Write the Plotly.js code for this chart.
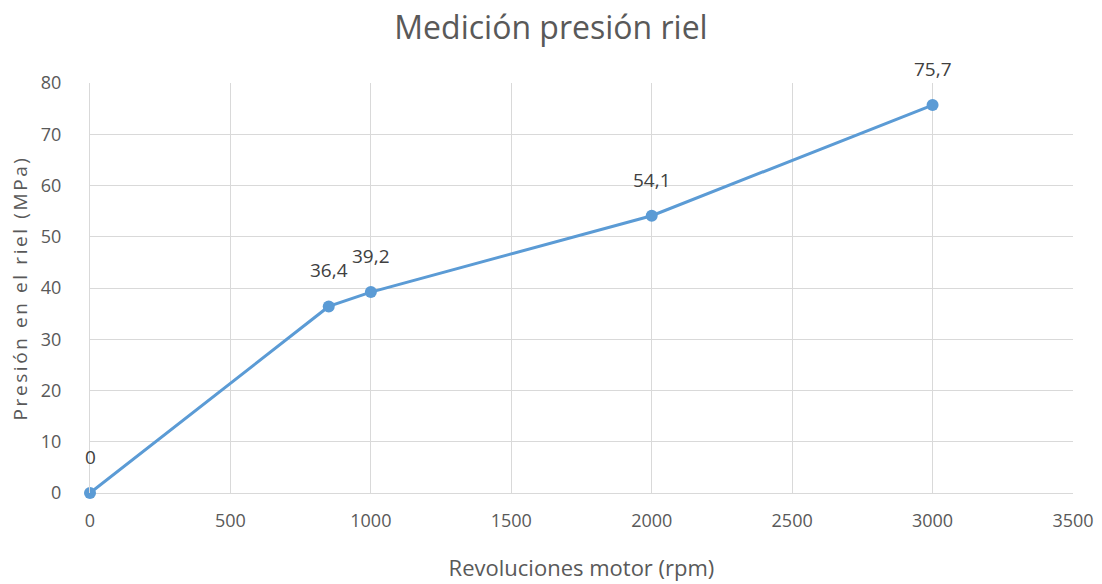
<!DOCTYPE html>
<html>
<head>
<meta charset="utf-8">
<script src="https://cdn.plot.ly/plotly-3.0.1.min.js"></script>
<style>
html,body{margin:0;padding:0;background:#fff;}
#chart{width:1102px;height:584px;}
.ytitle{letter-spacing:2.6px;}
</style>
</head>
<body>
<div id="chart"></div>
<script>
const rpm = [0, 850, 1000, 2000, 3000];
const pressure = [0, 36.4, 39.2, 54.1, 75.7];
const labels = ["0", "36,4", "39,2", "54,1", "75,7"];
const xTicks = [0, 500, 1000, 1500, 2000, 2500, 3000, 3500];
const yTicks = [0, 10, 20, 30, 40, 50, 60, 70, 80];

const fontFam = "'Open Sans', 'Noto Sans', sans-serif";
const trace = {
  x: rpm, y: pressure, type: 'scatter', mode: 'lines+markers',
  line: {color: '#5b9bd5', width: 3},
  marker: {color: '#5b9bd5', size: 12},
  hoverinfo: 'none', cliponaxis: false
};
const annotations = rpm.map((x, i) => ({
  x: x, y: pressure[i], text: labels[i], showarrow: false,
  yshift: 36, font: {family: fontFam, size: 19, color: '#404040'}
}));
const layout = {
  width: 1102, height: 584,
  margin: {l: 90, r: 29, t: 83, b: 91},
  paper_bgcolor: '#fff', plot_bgcolor: '#fff',
  showlegend: false,
  title: {text: 'Medición presión riel', x: 0.5, xanchor: 'center', y: 0.953, yanchor: 'middle',
          font: {family: fontFam, size: 32, color: '#595959'}},
  xaxis: {
    range: [0, 3500], tickvals: xTicks, ticktext: xTicks.map(String),
    showgrid: true, gridcolor: '#d9d9d9', gridwidth: 1, zeroline: false,
    showline: false, ticks: '', ticklabelstandoff: 15,
    tickfont: {family: fontFam, size: 18, color: '#595959'},
    title: {text: 'Revoluciones motor (rpm)', standoff: 29, font: {family: fontFam, size: 22, color: '#595959'}}
  },
  yaxis: {
    range: [0, 80], tickvals: yTicks, ticktext: yTicks.map(String),
    showgrid: true, gridcolor: '#d9d9d9', gridwidth: 1, zeroline: true, zerolinecolor: '#d9d9d9',
    showline: true, linecolor: '#d9d9d9', ticks: '', ticklabelstandoff: 24,
    tickfont: {family: fontFam, size: 18, color: '#595959'},
    title: {text: 'Presión en el riel (MPa)', standoff: 8, font: {family: fontFam, size: 19, color: '#595959'}}
  },
  annotations: annotations
};
Plotly.newPlot('chart', [trace], layout, {displayModeBar: false, staticPlot: true});
</script>
</body>
</html>
